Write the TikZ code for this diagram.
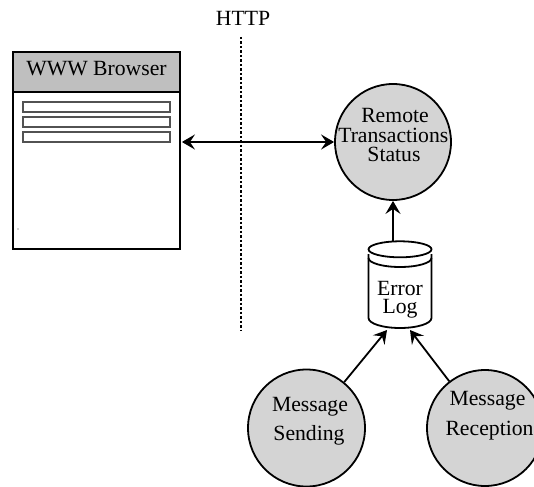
\documentclass[tikz,border=0pt]{standalone}
\usepackage{fontspec}
\setmainfont{Liberation Serif}
\usetikzlibrary{arrows.meta}
\definecolor{headgray}{gray}{0.75}
\definecolor{procgray}{gray}{0.83}
\definecolor{bargray}{gray}{0.32}
\begin{document}
\begin{tikzpicture}[x=1pt,y=-1pt,
  every node/.style={font=\fontsize{21.7}{24}\selectfont},
  txt/.style={anchor=base,inner sep=0pt},
  proc/.style={circle,draw,line width=1.8pt,fill=procgray,minimum size=116pt,inner sep=0pt},
  frame/.style={rectangle,draw,line width=1.8pt,inner sep=0pt},
  bar/.style={rectangle,draw=bargray,line width=1.1pt,fill=white,inner sep=0pt,minimum width=147pt,minimum height=10pt},
  flow/.style={line width=1.8pt,-{Stealth[length=13pt,width=15pt,inset=5pt]}},
  biflow/.style={line width=1.8pt,{Stealth[length=13pt,width=15pt,inset=5pt]}-{Stealth[length=13pt,width=15pt,inset=5pt]}},
  store/.style={line width=1.8pt},
  boundary/.style={line width=1.8pt,dash pattern=on 2.5pt off 2pt}]
\useasboundingbox (0,0) rectangle (534,486);

% browser window: title bar and page body
\node[frame,fill=headgray,minimum width=167pt,minimum height=40pt] (browserhead) at (96.5,72) {};
\node[frame,fill=white,minimum width=167pt,minimum height=157pt] (browser) at (96.5,170.5) {};
\node[txt] (browsertitle) at (96.5,76) {WWW Browser};
\node[bar] (bar1) at (96.5,107) {};
\node[bar] (bar2) at (96.5,122) {};
\node[bar] (bar3) at (96.5,137) {};
\fill[bargray] (18,229) circle (0.6pt);

% HTTP boundary
\node[txt] (http) at (243,26) {HTTP};
\coordinate (httptop) at (241,37);
\coordinate (httpbot) at (241,330);
\draw[boundary] (httptop) -- (httpbot);

% processes
\node[proc] (remote) at (393,142) {};
\node[txt] (remote1) at (395,122.7) {Remote};
\node[txt] (remote2) at (393.3,142.7) {Transactions};
\node[txt] (remote3) at (394,162) {Status};

\node[proc,minimum size=117pt] (send) at (306.5,428) {};
\node[txt] (send1) at (310,411.7) {Message};
\node[txt] (send2) at (309,440) {Sending};

\node[proc] (recv) at (485,428) {};
\node[txt] (recv1) at (487.5,405) {Message};
\node[txt] (recv2) at (489.5,435) {Reception};

% error log store: lid, rim, body
\node[inner sep=0pt,minimum width=63pt,minimum height=87pt] (log) at (400,284.5) {};
\draw[store] (400,249.3) ellipse (31.5pt and 8pt);
\draw[store] (368.5,254) -- (368.5,318)
  arc[start angle=180,end angle=360,x radius=31.5pt,y radius=10pt]
  -- (431.5,254);
\draw[store] (368.5,258) arc[start angle=180,end angle=360,x radius=31.5pt,y radius=9pt];
\node[txt] (log1) at (400,295) {Error};
\node[txt] (log2) at (400,313) {Log};

% connectors
\coordinate (login1) at (387,330);
\coordinate (login2) at (410,330);
\draw[biflow] ([xshift=1pt]browser.east |- remote.west) -- (remote.west);
\draw[flow] (remote.south |- log.north) -- (remote.south);
\draw[flow] (send) -- (login1);
\draw[flow] (recv) -- (login2);
\end{tikzpicture}
\end{document}
